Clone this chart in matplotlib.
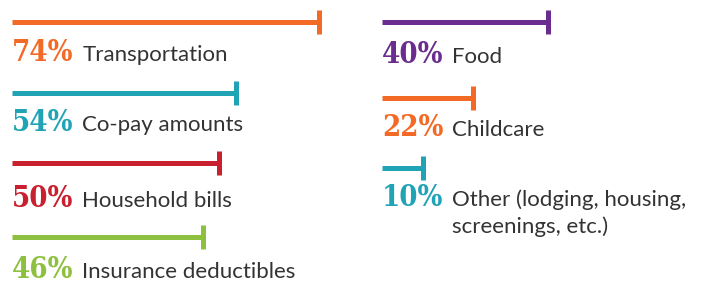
import matplotlib
matplotlib.use("Agg")
import matplotlib.pyplot as plt

# ---- data ----
left_labels = ["Transportation", "Co-pay amounts", "Household bills", "Insurance deductibles"]
left_values = [74, 54, 50, 46]
left_colors = ["#F26A25", "#21A3B6", "#C8202F", "#8DC03F"]

right_labels = ["Food", "Childcare", "Other (lodging, housing,\nscreenings, etc.)"]
right_values = [40, 22, 10]
right_colors = ["#6A2C8E", "#F26A25", "#21A3B6"]

# ---- layout (pixels) ----
W, H, DPI = 701, 284, 100
PX_PER_PCT = 4.15
TEXT_COLOR = "#333333"
LINE_STEP = 27

fig = plt.figure(figsize=(W / DPI, H / DPI), dpi=DPI)
fig.patch.set_facecolor("white")


def column(x0_px, width_px, labels, values, colors, bar_y, base_y):
    ax = fig.add_axes([x0_px / W, 0, width_px / W, 1])
    ax.set_xlim(0, width_px / PX_PER_PCT)
    ax.set_ylim(H, 0)
    ax.axis("off")
    for lab, v, c, by, ty in zip(labels, values, colors, bar_y, base_y):
        ax.hlines(by, 0, v, color=c, lw=3.6, capstyle="butt")
        ax.vlines(v, by - 12, by + 12, color=c, lw=3.6)
        t = ax.text(0, ty, f"{v}%", color=c, fontsize=21, fontweight="bold",
                    family="DejaVu Serif", fontstretch="condensed",
                    va="baseline", ha="left")
        for i, line in enumerate(lab.split("\n")):
            ax.annotate(line, xy=(1, ty), xycoords=(t, ax.transData),
                        xytext=(9, -LINE_STEP * i), textcoords="offset pixels",
                        color=TEXT_COLOR, fontsize=16, family="Lato",
                        va="baseline", ha="left")
    return ax


column(12, 350, left_labels, left_values, left_colors,
       [22, 93, 163, 237], [61, 131, 207, 278])
column(382, 319, right_labels, right_values, right_colors,
       [22, 98, 168], [63, 136, 206])

fig.savefig("out.png", dpi=DPI, facecolor="white")
